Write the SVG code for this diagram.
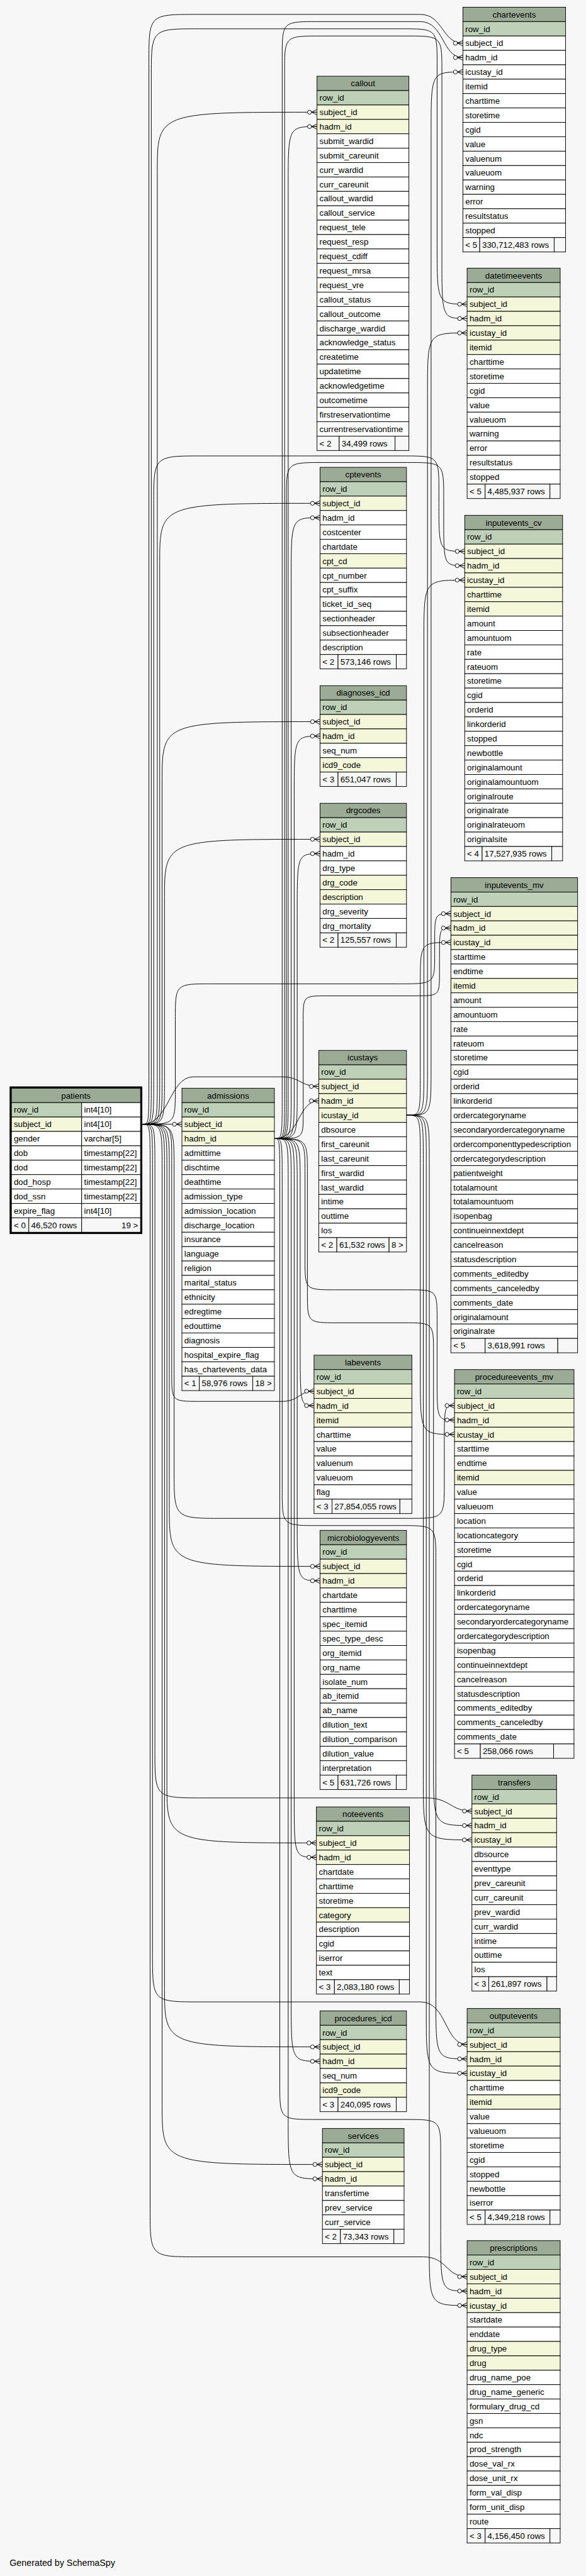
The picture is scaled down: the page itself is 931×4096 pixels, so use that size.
<svg xmlns="http://www.w3.org/2000/svg" width="931" height="4096" viewBox="0 0 931 4096">
<style>
text{font-family:"Liberation Sans",Arial,Helvetica,sans-serif;font-size:14px;fill:#000}
.c{text-anchor:middle}
.r{text-anchor:end}
.tb rect{stroke:#000;stroke-width:1}
.h{fill:#9bab96}
.pk{fill:#bed1b8}
.ix{fill:#f4f7da}
.w{fill:#ffffff}
.f{fill:#f7f7f7}
.e path{fill:none;stroke:#000;stroke-width:1;marker-end:url(#cf)}
</style>
<defs>
<marker id="cf" viewBox="-17 -6 18 12" refX="0" refY="0" markerWidth="18" markerHeight="12" orient="auto" markerUnits="userSpaceOnUse" overflow="visible">
<path d="M-9 0L0-4.5M-9 0L0 0M-9 0L0 4.5" fill="none" stroke="#000" stroke-width="1"/>
<circle cx="-12.5" cy="0" r="3.3" fill="#fff" stroke="#000" stroke-width="1"/>
</marker>
</defs>
<rect x="0" y="0" width="931" height="4096" fill="#f7f7f7"/>
<g transform="scale(0.95389)">
<g id="connectors" class="e">
<path d="M237 1874C262 1874 262 1874 262 1794L262 287C262 187 262 187 528 187"/>
<path d="M237 1874C266 1874 266 1874 266 1794L266 939C266 839 266 839 533 839"/>
<path d="M237 1874C270 1874 270 1874 270 1794L270 1303C270 1203 270 1203 533 1203"/>
<path d="M237 1874C274 1874 274 1874 274 1794L274 1499C274 1399 274 1399 533 1399"/>
<path d="M237 1874C282 1874 282 1795 322 1795L470 1795C500 1795 500 1811 531 1811"/>
<path d="M237 1874L303 1874"/>
<path d="M237 1874C286 1874 286 1874 286 1934L286 2290C286 2336 286 2336 332 2336L470 2336C498 2336 498 2319 523 2319"/>
<path d="M237 1874C282 1874 282 1874 282 1954L282 2511C282 2611 282 2611 533 2611"/>
<path d="M237 1874C278 1874 278 1874 278 1954L278 2972C278 3072 278 3072 527 3072"/>
<path d="M237 1874C274 1874 274 1874 274 1954L274 3312C274 3412 274 3412 533 3412"/>
<path d="M237 1874C270 1874 270 1874 270 1954L270 3508C270 3608 270 3608 537 3608"/>
<path d="M237 1874C248 1874 248 1874 248 1794L248 104C248 24 248 24 328 24L700 24C738 24 736 72 771 72"/>
<path d="M237 1874C252 1874 252 1874 252 1794L252 128C252 48 252 48 332 48L668 48C728 48 728 48 728 108L728 407C728 507 728 507 778 507"/>
<path d="M237 1874C256 1874 256 1874 256 1794L256 840C256 760 256 760 336 760L671 760C731 760 731 760 731 820L731 839C731 919 731 919 774 919"/>
<path d="M237 1874C292 1874 292 1874 292 1814L292 1700C292 1640 292 1640 352 1640L664 1640C724 1640 724 1640 724 1590L724 1573C724 1523 724 1523 751 1523"/>
<path d="M237 1874C290 1874 290 1874 290 1954L290 2451C290 2531 290 2531 370 2531L680 2531C740 2531 740 2531 740 2471L740 2413C740 2343 740 2343 757 2343"/>
<path d="M237 1874C258 1874 258 1874 258 1954L258 2917C258 2997 258 2997 338 2997L710 2997C750 2997 750 3019 786 3019"/>
<path d="M237 1874C254 1874 254 1874 254 1954L254 3257C254 3337 254 3337 334 3337L700 3337C745 3337 740 3408 778 3408"/>
<path d="M237 1874C250 1874 250 1874 250 1954L250 3682C250 3762 250 3762 330 3762L705 3762C745 3762 742 3795 778 3795"/>
<path d="M457 1898C480 1898 480 1898 480 1818L480 311C480 211 480 211 528 211"/>
<path d="M457 1898C485 1898 485 1898 485 1818L485 963C485 863 485 863 533 863"/>
<path d="M457 1898C490 1898 490 1898 490 1818L490 1327C490 1227 490 1227 533 1227"/>
<path d="M457 1898C495 1898 495 1898 495 1818L495 1523C495 1423 495 1423 533 1423"/>
<path d="M457 1898C500 1898 495 1835 531 1835"/>
<path d="M457 1898C500 1898 500 1898 500 1978L500 2243C500 2343 500 2343 523 2343"/>
<path d="M457 1898C495 1898 495 1898 495 1978L495 2535C495 2635 495 2635 533 2635"/>
<path d="M457 1898C490 1898 490 1898 490 1978L490 2996C490 3096 490 3096 527 3096"/>
<path d="M457 1898C485 1898 485 1898 485 1978L485 3336C485 3436 485 3436 533 3436"/>
<path d="M457 1898C480 1898 480 1898 480 1978L480 3532C480 3632 480 3632 537 3632"/>
<path d="M457 1898C470 1898 470 1898 470 1818L470 96C470 36 470 36 530 36L700 36C740 36 736 96 771 96"/>
<path d="M457 1898C474 1898 474 1898 474 1818L474 120C474 60 474 60 534 60L676 60C736 60 736 60 736 120L736 431C736 531 736 531 778 531"/>
<path d="M457 1898C477 1898 477 1898 477 1818L477 831C477 771 477 771 537 771L679 771C739 771 739 771 739 831L739 863C739 943 739 943 774 943"/>
<path d="M457 1898C505 1898 505 1898 505 1858L505 1700C505 1660 505 1660 545 1660L692 1660C732 1660 732 1660 732 1620L732 1597C732 1547 732 1547 751 1547"/>
<path d="M457 1898C508 1898 508 1898 508 1958L508 2100C508 2150 508 2150 558 2150L678 2150C728 2150 728 2150 728 2200L728 2297C728 2367 728 2367 757 2367"/>
<path d="M457 1898C512 1898 512 1898 512 1958L512 2155C512 2205 512 2205 562 2205L672 2205C722 2205 722 2205 722 2255L722 2943C722 3043 722 3043 786 3043"/>
<path d="M457 1898C470 1898 470 1898 470 1978L470 2483C470 2543 470 2543 530 2543L666 2543C726 2543 726 2543 726 2603L726 3332C726 3432 726 3432 778 3432"/>
<path d="M457 1898C466 1898 466 1898 466 1978L466 3473C466 3533 466 3533 526 3533L674 3533C734 3533 734 3533 734 3593L734 3719C734 3819 734 3819 778 3819"/>
<path d="M677 1859C700 1859 700 1859 700 1789L700 1641C700 1571 700 1571 751 1571"/>
<path d="M677 1859C706 1859 706 1859 706 1779L706 1067C706 967 706 967 774 967"/>
<path d="M677 1859C712 1859 712 1859 712 1779L712 655C712 555 712 555 778 555"/>
<path d="M677 1859C718 1859 718 1859 718 1779L718 220C718 120 718 120 771 120"/>
<path d="M677 1859C700 1859 700 1859 700 1939L700 2291C700 2391 700 2391 757 2391"/>
<path d="M677 1859C705 1859 705 1859 705 1939L705 2967C705 3067 705 3067 786 3067"/>
<path d="M677 1859C710 1859 710 1859 710 1939L710 3356C710 3456 710 3456 778 3456"/>
<path d="M677 1859C715 1859 715 1859 715 1939L715 3743C715 3843 715 3843 778 3843"/>
</g>

<g id="patients" class="tb">
<rect class="h" x="19" y="1814" width="215" height="24"/><text class="c" x="126.5" y="1831">patients</text>
<rect class="pk" x="19" y="1838" width="117" height="24"/><rect class="w" x="136" y="1838" width="98" height="24"/><text x="23" y="1855">row_id</text><text x="140" y="1855">int4[10]</text>
<rect class="ix" x="19" y="1862" width="117" height="24"/><rect class="w" x="136" y="1862" width="98" height="24"/><text x="23" y="1879">subject_id</text><text x="140" y="1879">int4[10]</text>
<rect class="w" x="19" y="1886" width="117" height="24"/><rect class="w" x="136" y="1886" width="98" height="24"/><text x="23" y="1903">gender</text><text x="140" y="1903">varchar[5]</text>
<rect class="w" x="19" y="1910" width="117" height="24"/><rect class="w" x="136" y="1910" width="98" height="24"/><text x="23" y="1927">dob</text><text x="140" y="1927">timestamp[22]</text>
<rect class="w" x="19" y="1934" width="117" height="24"/><rect class="w" x="136" y="1934" width="98" height="24"/><text x="23" y="1951">dod</text><text x="140" y="1951">timestamp[22]</text>
<rect class="w" x="19" y="1958" width="117" height="24"/><rect class="w" x="136" y="1958" width="98" height="24"/><text x="23" y="1975">dod_hosp</text><text x="140" y="1975">timestamp[22]</text>
<rect class="w" x="19" y="1982" width="117" height="24"/><rect class="w" x="136" y="1982" width="98" height="24"/><text x="23" y="1999">dod_ssn</text><text x="140" y="1999">timestamp[22]</text>
<rect class="w" x="19" y="2006" width="117" height="24"/><rect class="w" x="136" y="2006" width="98" height="24"/><text x="23" y="2023">expire_flag</text><text x="140" y="2023">int4[10]</text>
<rect class="f" x="19" y="2030" width="29" height="24"/><rect class="f" x="48" y="2030" width="88" height="24"/><rect class="f" x="136" y="2030" width="98" height="24"/>
<text x="23" y="2047">&lt; 0</text><text x="52" y="2047">46,520 rows</text><text class="r" x="230" y="2047">19 &gt;</text>
<rect x="17.5" y="1812.5" width="218" height="243" fill="none" style="stroke-width:3"/>
</g>

<g id="admissions" class="tb">
<rect class="h" x="303" y="1814" width="154" height="24"/><text class="c" x="380" y="1831">admissions</text>
<rect class="pk" x="303" y="1838" width="154" height="24"/><text x="307" y="1855">row_id</text>
<rect class="ix" x="303" y="1862" width="154" height="24"/><text x="307" y="1879">subject_id</text>
<rect class="ix" x="303" y="1886" width="154" height="24"/><text x="307" y="1903">hadm_id</text>
<rect class="w" x="303" y="1910" width="154" height="24"/><text x="307" y="1927">admittime</text>
<rect class="w" x="303" y="1934" width="154" height="24"/><text x="307" y="1951">dischtime</text>
<rect class="w" x="303" y="1958" width="154" height="24"/><text x="307" y="1975">deathtime</text>
<rect class="w" x="303" y="1982" width="154" height="24"/><text x="307" y="1999">admission_type</text>
<rect class="w" x="303" y="2006" width="154" height="24"/><text x="307" y="2023">admission_location</text>
<rect class="w" x="303" y="2030" width="154" height="24"/><text x="307" y="2047">discharge_location</text>
<rect class="w" x="303" y="2054" width="154" height="24"/><text x="307" y="2071">insurance</text>
<rect class="w" x="303" y="2078" width="154" height="24"/><text x="307" y="2095">language</text>
<rect class="w" x="303" y="2102" width="154" height="24"/><text x="307" y="2119">religion</text>
<rect class="w" x="303" y="2126" width="154" height="24"/><text x="307" y="2143">marital_status</text>
<rect class="w" x="303" y="2150" width="154" height="24"/><text x="307" y="2167">ethnicity</text>
<rect class="w" x="303" y="2174" width="154" height="24"/><text x="307" y="2191">edregtime</text>
<rect class="w" x="303" y="2198" width="154" height="24"/><text x="307" y="2215">edouttime</text>
<rect class="w" x="303" y="2222" width="154" height="24"/><text x="307" y="2239">diagnosis</text>
<rect class="w" x="303" y="2246" width="154" height="24"/><text x="307" y="2263">hospital_expire_flag</text>
<rect class="w" x="303" y="2270" width="154" height="24"/><text x="307" y="2287">has_chartevents_data</text>
<rect class="f" x="303" y="2294" width="29" height="24"/><rect class="f" x="332" y="2294" width="89" height="24"/><rect class="f" x="421" y="2294" width="36" height="24"/>
<text x="307" y="2311">&lt; 1</text><text x="336" y="2311">58,976 rows</text><text x="425" y="2311">18 &gt;</text>
</g>

<g id="callout" class="tb">
<rect class="h" x="528" y="127" width="153" height="24"/><text class="c" x="604.5" y="144">callout</text>
<rect class="pk" x="528" y="151" width="153" height="24"/><text x="532" y="168">row_id</text>
<rect class="ix" x="528" y="175" width="153" height="24"/><text x="532" y="192">subject_id</text>
<rect class="ix" x="528" y="199" width="153" height="24"/><text x="532" y="216">hadm_id</text>
<rect class="w" x="528" y="223" width="153" height="24"/><text x="532" y="240">submit_wardid</text>
<rect class="w" x="528" y="247" width="153" height="24"/><text x="532" y="264">submit_careunit</text>
<rect class="w" x="528" y="271" width="153" height="24"/><text x="532" y="288">curr_wardid</text>
<rect class="w" x="528" y="295" width="153" height="24"/><text x="532" y="312">curr_careunit</text>
<rect class="w" x="528" y="319" width="153" height="24"/><text x="532" y="336">callout_wardid</text>
<rect class="w" x="528" y="343" width="153" height="24"/><text x="532" y="360">callout_service</text>
<rect class="w" x="528" y="367" width="153" height="24"/><text x="532" y="384">request_tele</text>
<rect class="w" x="528" y="391" width="153" height="24"/><text x="532" y="408">request_resp</text>
<rect class="w" x="528" y="415" width="153" height="24"/><text x="532" y="432">request_cdiff</text>
<rect class="w" x="528" y="439" width="153" height="24"/><text x="532" y="456">request_mrsa</text>
<rect class="w" x="528" y="463" width="153" height="24"/><text x="532" y="480">request_vre</text>
<rect class="w" x="528" y="487" width="153" height="24"/><text x="532" y="504">callout_status</text>
<rect class="w" x="528" y="511" width="153" height="24"/><text x="532" y="528">callout_outcome</text>
<rect class="w" x="528" y="535" width="153" height="24"/><text x="532" y="552">discharge_wardid</text>
<rect class="w" x="528" y="559" width="153" height="24"/><text x="532" y="576">acknowledge_status</text>
<rect class="w" x="528" y="583" width="153" height="24"/><text x="532" y="600">createtime</text>
<rect class="w" x="528" y="607" width="153" height="24"/><text x="532" y="624">updatetime</text>
<rect class="w" x="528" y="631" width="153" height="24"/><text x="532" y="648">acknowledgetime</text>
<rect class="w" x="528" y="655" width="153" height="24"/><text x="532" y="672">outcometime</text>
<rect class="w" x="528" y="679" width="153" height="24"/><text x="532" y="696">firstreservationtime</text>
<rect class="w" x="528" y="703" width="153" height="24"/><text x="532" y="720">currentreservationtime</text>
<rect class="f" x="528" y="727" width="37" height="24"/><rect class="f" x="565" y="727" width="93" height="24"/><rect class="f" x="658" y="727" width="23" height="24"/>
<text x="532" y="744">&lt; 2</text><text x="569" y="744">34,499 rows</text>
</g>

<g id="cptevents" class="tb">
<rect class="h" x="533" y="779" width="144" height="24"/><text class="c" x="605" y="796">cptevents</text>
<rect class="pk" x="533" y="803" width="144" height="24"/><text x="537" y="820">row_id</text>
<rect class="ix" x="533" y="827" width="144" height="24"/><text x="537" y="844">subject_id</text>
<rect class="w" x="533" y="851" width="144" height="24"/><text x="537" y="868">hadm_id</text>
<rect class="w" x="533" y="875" width="144" height="24"/><text x="537" y="892">costcenter</text>
<rect class="w" x="533" y="899" width="144" height="24"/><text x="537" y="916">chartdate</text>
<rect class="ix" x="533" y="923" width="144" height="24"/><text x="537" y="940">cpt_cd</text>
<rect class="w" x="533" y="947" width="144" height="24"/><text x="537" y="964">cpt_number</text>
<rect class="w" x="533" y="971" width="144" height="24"/><text x="537" y="988">cpt_suffix</text>
<rect class="w" x="533" y="995" width="144" height="24"/><text x="537" y="1012">ticket_id_seq</text>
<rect class="w" x="533" y="1019" width="144" height="24"/><text x="537" y="1036">sectionheader</text>
<rect class="w" x="533" y="1043" width="144" height="24"/><text x="537" y="1060">subsectionheader</text>
<rect class="w" x="533" y="1067" width="144" height="24"/><text x="537" y="1084">description</text>
<rect class="f" x="533" y="1091" width="30" height="24"/><rect class="f" x="563" y="1091" width="97" height="24"/><rect class="f" x="660" y="1091" width="17" height="24"/>
<text x="537" y="1108">&lt; 2</text><text x="567" y="1108">573,146 rows</text>
</g>

<g id="diagnoses_icd" class="tb">
<rect class="h" x="533" y="1143" width="144" height="24"/><text class="c" x="605" y="1160">diagnoses_icd</text>
<rect class="pk" x="533" y="1167" width="144" height="24"/><text x="537" y="1184">row_id</text>
<rect class="ix" x="533" y="1191" width="144" height="24"/><text x="537" y="1208">subject_id</text>
<rect class="ix" x="533" y="1215" width="144" height="24"/><text x="537" y="1232">hadm_id</text>
<rect class="w" x="533" y="1239" width="144" height="24"/><text x="537" y="1256">seq_num</text>
<rect class="ix" x="533" y="1263" width="144" height="24"/><text x="537" y="1280">icd9_code</text>
<rect class="f" x="533" y="1287" width="30" height="24"/><rect class="f" x="563" y="1287" width="97" height="24"/><rect class="f" x="660" y="1287" width="17" height="24"/>
<text x="537" y="1304">&lt; 3</text><text x="567" y="1304">651,047 rows</text>
</g>

<g id="drgcodes" class="tb">
<rect class="h" x="533" y="1339" width="144" height="24"/><text class="c" x="605" y="1356">drgcodes</text>
<rect class="pk" x="533" y="1363" width="144" height="24"/><text x="537" y="1380">row_id</text>
<rect class="ix" x="533" y="1387" width="144" height="24"/><text x="537" y="1404">subject_id</text>
<rect class="w" x="533" y="1411" width="144" height="24"/><text x="537" y="1428">hadm_id</text>
<rect class="w" x="533" y="1435" width="144" height="24"/><text x="537" y="1452">drg_type</text>
<rect class="ix" x="533" y="1459" width="144" height="24"/><text x="537" y="1476">drg_code</text>
<rect class="ix" x="533" y="1483" width="144" height="24"/><text x="537" y="1500">description</text>
<rect class="w" x="533" y="1507" width="144" height="24"/><text x="537" y="1524">drg_severity</text>
<rect class="w" x="533" y="1531" width="144" height="24"/><text x="537" y="1548">drg_mortality</text>
<rect class="f" x="533" y="1555" width="30" height="24"/><rect class="f" x="563" y="1555" width="97" height="24"/><rect class="f" x="660" y="1555" width="17" height="24"/>
<text x="537" y="1572">&lt; 2</text><text x="567" y="1572">125,557 rows</text>
</g>

<g id="icustays" class="tb">
<rect class="h" x="531" y="1751" width="146" height="24"/><text class="c" x="604" y="1768">icustays</text>
<rect class="pk" x="531" y="1775" width="146" height="24"/><text x="535" y="1792">row_id</text>
<rect class="ix" x="531" y="1799" width="146" height="24"/><text x="535" y="1816">subject_id</text>
<rect class="ix" x="531" y="1823" width="146" height="24"/><text x="535" y="1840">hadm_id</text>
<rect class="ix" x="531" y="1847" width="146" height="24"/><text x="535" y="1864">icustay_id</text>
<rect class="w" x="531" y="1871" width="146" height="24"/><text x="535" y="1888">dbsource</text>
<rect class="w" x="531" y="1895" width="146" height="24"/><text x="535" y="1912">first_careunit</text>
<rect class="w" x="531" y="1919" width="146" height="24"/><text x="535" y="1936">last_careunit</text>
<rect class="w" x="531" y="1943" width="146" height="24"/><text x="535" y="1960">first_wardid</text>
<rect class="w" x="531" y="1967" width="146" height="24"/><text x="535" y="1984">last_wardid</text>
<rect class="w" x="531" y="1991" width="146" height="24"/><text x="535" y="2008">intime</text>
<rect class="w" x="531" y="2015" width="146" height="24"/><text x="535" y="2032">outtime</text>
<rect class="w" x="531" y="2039" width="146" height="24"/><text x="535" y="2056">los</text>
<rect class="f" x="531" y="2063" width="30" height="24"/><rect class="f" x="561" y="2063" width="87" height="24"/><rect class="f" x="648" y="2063" width="29" height="24"/>
<text x="535" y="2080">&lt; 2</text><text x="565" y="2080">61,532 rows</text><text x="652" y="2080">8 &gt;</text>
</g>

<g id="labevents" class="tb">
<rect class="h" x="523" y="2259" width="163" height="24"/><text class="c" x="604.5" y="2276">labevents</text>
<rect class="pk" x="523" y="2283" width="163" height="24"/><text x="527" y="2300">row_id</text>
<rect class="ix" x="523" y="2307" width="163" height="24"/><text x="527" y="2324">subject_id</text>
<rect class="ix" x="523" y="2331" width="163" height="24"/><text x="527" y="2348">hadm_id</text>
<rect class="ix" x="523" y="2355" width="163" height="24"/><text x="527" y="2372">itemid</text>
<rect class="w" x="523" y="2379" width="163" height="24"/><text x="527" y="2396">charttime</text>
<rect class="w" x="523" y="2403" width="163" height="24"/><text x="527" y="2420">value</text>
<rect class="w" x="523" y="2427" width="163" height="24"/><text x="527" y="2444">valuenum</text>
<rect class="w" x="523" y="2451" width="163" height="24"/><text x="527" y="2468">valueuom</text>
<rect class="w" x="523" y="2475" width="163" height="24"/><text x="527" y="2492">flag</text>
<rect class="f" x="523" y="2499" width="30" height="24"/><rect class="f" x="553" y="2499" width="113" height="24"/><rect class="f" x="666" y="2499" width="20" height="24"/>
<text x="527" y="2516">&lt; 3</text><text x="557" y="2516">27,854,055 rows</text>
</g>

<g id="microbiologyevents" class="tb">
<rect class="h" x="533" y="2551" width="144" height="24"/><text class="c" x="605" y="2568">microbiologyevents</text>
<rect class="pk" x="533" y="2575" width="144" height="24"/><text x="537" y="2592">row_id</text>
<rect class="ix" x="533" y="2599" width="144" height="24"/><text x="537" y="2616">subject_id</text>
<rect class="ix" x="533" y="2623" width="144" height="24"/><text x="537" y="2640">hadm_id</text>
<rect class="w" x="533" y="2647" width="144" height="24"/><text x="537" y="2664">chartdate</text>
<rect class="w" x="533" y="2671" width="144" height="24"/><text x="537" y="2688">charttime</text>
<rect class="w" x="533" y="2695" width="144" height="24"/><text x="537" y="2712">spec_itemid</text>
<rect class="w" x="533" y="2719" width="144" height="24"/><text x="537" y="2736">spec_type_desc</text>
<rect class="w" x="533" y="2743" width="144" height="24"/><text x="537" y="2760">org_itemid</text>
<rect class="w" x="533" y="2767" width="144" height="24"/><text x="537" y="2784">org_name</text>
<rect class="w" x="533" y="2791" width="144" height="24"/><text x="537" y="2808">isolate_num</text>
<rect class="w" x="533" y="2815" width="144" height="24"/><text x="537" y="2832">ab_itemid</text>
<rect class="w" x="533" y="2839" width="144" height="24"/><text x="537" y="2856">ab_name</text>
<rect class="w" x="533" y="2863" width="144" height="24"/><text x="537" y="2880">dilution_text</text>
<rect class="w" x="533" y="2887" width="144" height="24"/><text x="537" y="2904">dilution_comparison</text>
<rect class="w" x="533" y="2911" width="144" height="24"/><text x="537" y="2928">dilution_value</text>
<rect class="w" x="533" y="2935" width="144" height="24"/><text x="537" y="2952">interpretation</text>
<rect class="f" x="533" y="2959" width="30" height="24"/><rect class="f" x="563" y="2959" width="97" height="24"/><rect class="f" x="660" y="2959" width="17" height="24"/>
<text x="537" y="2976">&lt; 5</text><text x="567" y="2976">631,726 rows</text>
</g>

<g id="noteevents" class="tb">
<rect class="h" x="527" y="3012" width="155" height="24"/><text class="c" x="604.5" y="3029">noteevents</text>
<rect class="pk" x="527" y="3036" width="155" height="24"/><text x="531" y="3053">row_id</text>
<rect class="ix" x="527" y="3060" width="155" height="24"/><text x="531" y="3077">subject_id</text>
<rect class="ix" x="527" y="3084" width="155" height="24"/><text x="531" y="3101">hadm_id</text>
<rect class="w" x="527" y="3108" width="155" height="24"/><text x="531" y="3125">chartdate</text>
<rect class="w" x="527" y="3132" width="155" height="24"/><text x="531" y="3149">charttime</text>
<rect class="w" x="527" y="3156" width="155" height="24"/><text x="531" y="3173">storetime</text>
<rect class="ix" x="527" y="3180" width="155" height="24"/><text x="531" y="3197">category</text>
<rect class="w" x="527" y="3204" width="155" height="24"/><text x="531" y="3221">description</text>
<rect class="w" x="527" y="3228" width="155" height="24"/><text x="531" y="3245">cgid</text>
<rect class="w" x="527" y="3252" width="155" height="24"/><text x="531" y="3269">iserror</text>
<rect class="w" x="527" y="3276" width="155" height="24"/><text x="531" y="3293">text</text>
<rect class="f" x="527" y="3300" width="30" height="24"/><rect class="f" x="557" y="3300" width="108" height="24"/><rect class="f" x="665" y="3300" width="17" height="24"/>
<text x="531" y="3317">&lt; 3</text><text x="561" y="3317">2,083,180 rows</text>
</g>

<g id="procedures_icd" class="tb">
<rect class="h" x="533" y="3352" width="144" height="24"/><text class="c" x="605" y="3369">procedures_icd</text>
<rect class="pk" x="533" y="3376" width="144" height="24"/><text x="537" y="3393">row_id</text>
<rect class="ix" x="533" y="3400" width="144" height="24"/><text x="537" y="3417">subject_id</text>
<rect class="ix" x="533" y="3424" width="144" height="24"/><text x="537" y="3441">hadm_id</text>
<rect class="w" x="533" y="3448" width="144" height="24"/><text x="537" y="3465">seq_num</text>
<rect class="ix" x="533" y="3472" width="144" height="24"/><text x="537" y="3489">icd9_code</text>
<rect class="f" x="533" y="3496" width="30" height="24"/><rect class="f" x="563" y="3496" width="97" height="24"/><rect class="f" x="660" y="3496" width="17" height="24"/>
<text x="537" y="3513">&lt; 3</text><text x="567" y="3513">240,095 rows</text>
</g>

<g id="services" class="tb">
<rect class="h" x="537" y="3548" width="136" height="24"/><text class="c" x="605" y="3565">services</text>
<rect class="pk" x="537" y="3572" width="136" height="24"/><text x="541" y="3589">row_id</text>
<rect class="ix" x="537" y="3596" width="136" height="24"/><text x="541" y="3613">subject_id</text>
<rect class="ix" x="537" y="3620" width="136" height="24"/><text x="541" y="3637">hadm_id</text>
<rect class="w" x="537" y="3644" width="136" height="24"/><text x="541" y="3661">transfertime</text>
<rect class="w" x="537" y="3668" width="136" height="24"/><text x="541" y="3685">prev_service</text>
<rect class="w" x="537" y="3692" width="136" height="24"/><text x="541" y="3709">curr_service</text>
<rect class="f" x="537" y="3716" width="30" height="24"/><rect class="f" x="567" y="3716" width="89" height="24"/><rect class="f" x="656" y="3716" width="17" height="24"/>
<text x="541" y="3733">&lt; 2</text><text x="571" y="3733">73,343 rows</text>
</g>

<g id="chartevents" class="tb">
<rect class="h" x="771" y="12" width="171" height="24"/><text class="c" x="856.5" y="29">chartevents</text>
<rect class="pk" x="771" y="36" width="171" height="24"/><text x="775" y="53">row_id</text>
<rect class="w" x="771" y="60" width="171" height="24"/><text x="775" y="77">subject_id</text>
<rect class="w" x="771" y="84" width="171" height="24"/><text x="775" y="101">hadm_id</text>
<rect class="w" x="771" y="108" width="171" height="24"/><text x="775" y="125">icustay_id</text>
<rect class="w" x="771" y="132" width="171" height="24"/><text x="775" y="149">itemid</text>
<rect class="w" x="771" y="156" width="171" height="24"/><text x="775" y="173">charttime</text>
<rect class="w" x="771" y="180" width="171" height="24"/><text x="775" y="197">storetime</text>
<rect class="w" x="771" y="204" width="171" height="24"/><text x="775" y="221">cgid</text>
<rect class="w" x="771" y="228" width="171" height="24"/><text x="775" y="245">value</text>
<rect class="w" x="771" y="252" width="171" height="24"/><text x="775" y="269">valuenum</text>
<rect class="w" x="771" y="276" width="171" height="24"/><text x="775" y="293">valueuom</text>
<rect class="w" x="771" y="300" width="171" height="24"/><text x="775" y="317">warning</text>
<rect class="w" x="771" y="324" width="171" height="24"/><text x="775" y="341">error</text>
<rect class="w" x="771" y="348" width="171" height="24"/><text x="775" y="365">resultstatus</text>
<rect class="w" x="771" y="372" width="171" height="24"/><text x="775" y="389">stopped</text>
<rect class="f" x="771" y="396" width="28" height="24"/><rect class="f" x="799" y="396" width="124" height="24"/><rect class="f" x="923" y="396" width="19" height="24"/>
<text x="775" y="413">&lt; 5</text><text x="803" y="413">330,712,483 rows</text>
</g>

<g id="datetimeevents" class="tb">
<rect class="h" x="778" y="447" width="155" height="24"/><text class="c" x="855.5" y="464">datetimeevents</text>
<rect class="pk" x="778" y="471" width="155" height="24"/><text x="782" y="488">row_id</text>
<rect class="ix" x="778" y="495" width="155" height="24"/><text x="782" y="512">subject_id</text>
<rect class="ix" x="778" y="519" width="155" height="24"/><text x="782" y="536">hadm_id</text>
<rect class="ix" x="778" y="543" width="155" height="24"/><text x="782" y="560">icustay_id</text>
<rect class="ix" x="778" y="567" width="155" height="24"/><text x="782" y="584">itemid</text>
<rect class="w" x="778" y="591" width="155" height="24"/><text x="782" y="608">charttime</text>
<rect class="w" x="778" y="615" width="155" height="24"/><text x="782" y="632">storetime</text>
<rect class="w" x="778" y="639" width="155" height="24"/><text x="782" y="656">cgid</text>
<rect class="w" x="778" y="663" width="155" height="24"/><text x="782" y="680">value</text>
<rect class="w" x="778" y="687" width="155" height="24"/><text x="782" y="704">valueuom</text>
<rect class="w" x="778" y="711" width="155" height="24"/><text x="782" y="728">warning</text>
<rect class="w" x="778" y="735" width="155" height="24"/><text x="782" y="752">error</text>
<rect class="w" x="778" y="759" width="155" height="24"/><text x="782" y="776">resultstatus</text>
<rect class="w" x="778" y="783" width="155" height="24"/><text x="782" y="800">stopped</text>
<rect class="f" x="778" y="807" width="30" height="24"/><rect class="f" x="808" y="807" width="108" height="24"/><rect class="f" x="916" y="807" width="17" height="24"/>
<text x="782" y="824">&lt; 5</text><text x="812" y="824">4,485,937 rows</text>
</g>

<g id="inputevents_cv" class="tb">
<rect class="h" x="774" y="859" width="163" height="24"/><text class="c" x="855.5" y="876">inputevents_cv</text>
<rect class="pk" x="774" y="883" width="163" height="24"/><text x="778" y="900">row_id</text>
<rect class="ix" x="774" y="907" width="163" height="24"/><text x="778" y="924">subject_id</text>
<rect class="ix" x="774" y="931" width="163" height="24"/><text x="778" y="948">hadm_id</text>
<rect class="ix" x="774" y="955" width="163" height="24"/><text x="778" y="972">icustay_id</text>
<rect class="ix" x="774" y="979" width="163" height="24"/><text x="778" y="996">charttime</text>
<rect class="ix" x="774" y="1003" width="163" height="24"/><text x="778" y="1020">itemid</text>
<rect class="w" x="774" y="1027" width="163" height="24"/><text x="778" y="1044">amount</text>
<rect class="w" x="774" y="1051" width="163" height="24"/><text x="778" y="1068">amountuom</text>
<rect class="w" x="774" y="1075" width="163" height="24"/><text x="778" y="1092">rate</text>
<rect class="w" x="774" y="1099" width="163" height="24"/><text x="778" y="1116">rateuom</text>
<rect class="w" x="774" y="1123" width="163" height="24"/><text x="778" y="1140">storetime</text>
<rect class="w" x="774" y="1147" width="163" height="24"/><text x="778" y="1164">cgid</text>
<rect class="w" x="774" y="1171" width="163" height="24"/><text x="778" y="1188">orderid</text>
<rect class="w" x="774" y="1195" width="163" height="24"/><text x="778" y="1212">linkorderid</text>
<rect class="w" x="774" y="1219" width="163" height="24"/><text x="778" y="1236">stopped</text>
<rect class="w" x="774" y="1243" width="163" height="24"/><text x="778" y="1260">newbottle</text>
<rect class="w" x="774" y="1267" width="163" height="24"/><text x="778" y="1284">originalamount</text>
<rect class="w" x="774" y="1291" width="163" height="24"/><text x="778" y="1308">originalamountuom</text>
<rect class="w" x="774" y="1315" width="163" height="24"/><text x="778" y="1332">originalroute</text>
<rect class="w" x="774" y="1339" width="163" height="24"/><text x="778" y="1356">originalrate</text>
<rect class="w" x="774" y="1363" width="163" height="24"/><text x="778" y="1380">originalrateuom</text>
<rect class="w" x="774" y="1387" width="163" height="24"/><text x="778" y="1404">originalsite</text>
<rect class="f" x="774" y="1411" width="29" height="24"/><rect class="f" x="803" y="1411" width="116" height="24"/><rect class="f" x="919" y="1411" width="18" height="24"/>
<text x="778" y="1428">&lt; 4</text><text x="807" y="1428">17,527,935 rows</text>
</g>

<g id="inputevents_mv" class="tb">
<rect class="h" x="751" y="1463" width="211" height="24"/><text class="c" x="856.5" y="1480">inputevents_mv</text>
<rect class="pk" x="751" y="1487" width="211" height="24"/><text x="755" y="1504">row_id</text>
<rect class="ix" x="751" y="1511" width="211" height="24"/><text x="755" y="1528">subject_id</text>
<rect class="ix" x="751" y="1535" width="211" height="24"/><text x="755" y="1552">hadm_id</text>
<rect class="ix" x="751" y="1559" width="211" height="24"/><text x="755" y="1576">icustay_id</text>
<rect class="w" x="751" y="1583" width="211" height="24"/><text x="755" y="1600">starttime</text>
<rect class="w" x="751" y="1607" width="211" height="24"/><text x="755" y="1624">endtime</text>
<rect class="ix" x="751" y="1631" width="211" height="24"/><text x="755" y="1648">itemid</text>
<rect class="w" x="751" y="1655" width="211" height="24"/><text x="755" y="1672">amount</text>
<rect class="w" x="751" y="1679" width="211" height="24"/><text x="755" y="1696">amountuom</text>
<rect class="w" x="751" y="1703" width="211" height="24"/><text x="755" y="1720">rate</text>
<rect class="w" x="751" y="1727" width="211" height="24"/><text x="755" y="1744">rateuom</text>
<rect class="w" x="751" y="1751" width="211" height="24"/><text x="755" y="1768">storetime</text>
<rect class="w" x="751" y="1775" width="211" height="24"/><text x="755" y="1792">cgid</text>
<rect class="w" x="751" y="1799" width="211" height="24"/><text x="755" y="1816">orderid</text>
<rect class="w" x="751" y="1823" width="211" height="24"/><text x="755" y="1840">linkorderid</text>
<rect class="w" x="751" y="1847" width="211" height="24"/><text x="755" y="1864">ordercategoryname</text>
<rect class="w" x="751" y="1871" width="211" height="24"/><text x="755" y="1888">secondaryordercategoryname</text>
<rect class="w" x="751" y="1895" width="211" height="24"/><text x="755" y="1912">ordercomponenttypedescription</text>
<rect class="w" x="751" y="1919" width="211" height="24"/><text x="755" y="1936">ordercategorydescription</text>
<rect class="w" x="751" y="1943" width="211" height="24"/><text x="755" y="1960">patientweight</text>
<rect class="w" x="751" y="1967" width="211" height="24"/><text x="755" y="1984">totalamount</text>
<rect class="w" x="751" y="1991" width="211" height="24"/><text x="755" y="2008">totalamountuom</text>
<rect class="w" x="751" y="2015" width="211" height="24"/><text x="755" y="2032">isopenbag</text>
<rect class="w" x="751" y="2039" width="211" height="24"/><text x="755" y="2056">continueinnextdept</text>
<rect class="w" x="751" y="2063" width="211" height="24"/><text x="755" y="2080">cancelreason</text>
<rect class="w" x="751" y="2087" width="211" height="24"/><text x="755" y="2104">statusdescription</text>
<rect class="w" x="751" y="2111" width="211" height="24"/><text x="755" y="2128">comments_editedby</text>
<rect class="w" x="751" y="2135" width="211" height="24"/><text x="755" y="2152">comments_canceledby</text>
<rect class="w" x="751" y="2159" width="211" height="24"/><text x="755" y="2176">comments_date</text>
<rect class="w" x="751" y="2183" width="211" height="24"/><text x="755" y="2200">originalamount</text>
<rect class="w" x="751" y="2207" width="211" height="24"/><text x="755" y="2224">originalrate</text>
<rect class="f" x="751" y="2231" width="57" height="24"/><rect class="f" x="808" y="2231" width="121" height="24"/><rect class="f" x="929" y="2231" width="33" height="24"/>
<text x="755" y="2248">&lt; 5</text><text x="812" y="2248">3,618,991 rows</text>
</g>

<g id="procedureevents_mv" class="tb">
<rect class="h" x="757" y="2283" width="199" height="24"/><text class="c" x="856.5" y="2300">procedureevents_mv</text>
<rect class="pk" x="757" y="2307" width="199" height="24"/><text x="761" y="2324">row_id</text>
<rect class="ix" x="757" y="2331" width="199" height="24"/><text x="761" y="2348">subject_id</text>
<rect class="ix" x="757" y="2355" width="199" height="24"/><text x="761" y="2372">hadm_id</text>
<rect class="ix" x="757" y="2379" width="199" height="24"/><text x="761" y="2396">icustay_id</text>
<rect class="w" x="757" y="2403" width="199" height="24"/><text x="761" y="2420">starttime</text>
<rect class="w" x="757" y="2427" width="199" height="24"/><text x="761" y="2444">endtime</text>
<rect class="ix" x="757" y="2451" width="199" height="24"/><text x="761" y="2468">itemid</text>
<rect class="w" x="757" y="2475" width="199" height="24"/><text x="761" y="2492">value</text>
<rect class="w" x="757" y="2499" width="199" height="24"/><text x="761" y="2516">valueuom</text>
<rect class="w" x="757" y="2523" width="199" height="24"/><text x="761" y="2540">location</text>
<rect class="w" x="757" y="2547" width="199" height="24"/><text x="761" y="2564">locationcategory</text>
<rect class="w" x="757" y="2571" width="199" height="24"/><text x="761" y="2588">storetime</text>
<rect class="w" x="757" y="2595" width="199" height="24"/><text x="761" y="2612">cgid</text>
<rect class="w" x="757" y="2619" width="199" height="24"/><text x="761" y="2636">orderid</text>
<rect class="w" x="757" y="2643" width="199" height="24"/><text x="761" y="2660">linkorderid</text>
<rect class="w" x="757" y="2667" width="199" height="24"/><text x="761" y="2684">ordercategoryname</text>
<rect class="w" x="757" y="2691" width="199" height="24"/><text x="761" y="2708">secondaryordercategoryname</text>
<rect class="w" x="757" y="2715" width="199" height="24"/><text x="761" y="2732">ordercategorydescription</text>
<rect class="w" x="757" y="2739" width="199" height="24"/><text x="761" y="2756">isopenbag</text>
<rect class="w" x="757" y="2763" width="199" height="24"/><text x="761" y="2780">continueinnextdept</text>
<rect class="w" x="757" y="2787" width="199" height="24"/><text x="761" y="2804">cancelreason</text>
<rect class="w" x="757" y="2811" width="199" height="24"/><text x="761" y="2828">statusdescription</text>
<rect class="w" x="757" y="2835" width="199" height="24"/><text x="761" y="2852">comments_editedby</text>
<rect class="w" x="757" y="2859" width="199" height="24"/><text x="761" y="2876">comments_canceledby</text>
<rect class="w" x="757" y="2883" width="199" height="24"/><text x="761" y="2900">comments_date</text>
<rect class="f" x="757" y="2907" width="43" height="24"/><rect class="f" x="800" y="2907" width="122" height="24"/><rect class="f" x="922" y="2907" width="34" height="24"/>
<text x="761" y="2924">&lt; 5</text><text x="804" y="2924">258,066 rows</text>
</g>

<g id="transfers" class="tb">
<rect class="h" x="786" y="2959" width="141" height="24"/><text class="c" x="856.5" y="2976">transfers</text>
<rect class="pk" x="786" y="2983" width="141" height="24"/><text x="790" y="3000">row_id</text>
<rect class="ix" x="786" y="3007" width="141" height="24"/><text x="790" y="3024">subject_id</text>
<rect class="ix" x="786" y="3031" width="141" height="24"/><text x="790" y="3048">hadm_id</text>
<rect class="ix" x="786" y="3055" width="141" height="24"/><text x="790" y="3072">icustay_id</text>
<rect class="w" x="786" y="3079" width="141" height="24"/><text x="790" y="3096">dbsource</text>
<rect class="w" x="786" y="3103" width="141" height="24"/><text x="790" y="3120">eventtype</text>
<rect class="w" x="786" y="3127" width="141" height="24"/><text x="790" y="3144">prev_careunit</text>
<rect class="w" x="786" y="3151" width="141" height="24"/><text x="790" y="3168">curr_careunit</text>
<rect class="w" x="786" y="3175" width="141" height="24"/><text x="790" y="3192">prev_wardid</text>
<rect class="w" x="786" y="3199" width="141" height="24"/><text x="790" y="3216">curr_wardid</text>
<rect class="w" x="786" y="3223" width="141" height="24"/><text x="790" y="3240">intime</text>
<rect class="w" x="786" y="3247" width="141" height="24"/><text x="790" y="3264">outtime</text>
<rect class="w" x="786" y="3271" width="141" height="24"/><text x="790" y="3288">los</text>
<rect class="f" x="786" y="3295" width="28" height="24"/><rect class="f" x="814" y="3295" width="97" height="24"/><rect class="f" x="911" y="3295" width="16" height="24"/>
<text x="790" y="3312">&lt; 3</text><text x="818" y="3312">261,897 rows</text>
</g>

<g id="outputevents" class="tb">
<rect class="h" x="778" y="3348" width="155" height="24"/><text class="c" x="855.5" y="3365">outputevents</text>
<rect class="pk" x="778" y="3372" width="155" height="24"/><text x="782" y="3389">row_id</text>
<rect class="ix" x="778" y="3396" width="155" height="24"/><text x="782" y="3413">subject_id</text>
<rect class="ix" x="778" y="3420" width="155" height="24"/><text x="782" y="3437">hadm_id</text>
<rect class="ix" x="778" y="3444" width="155" height="24"/><text x="782" y="3461">icustay_id</text>
<rect class="w" x="778" y="3468" width="155" height="24"/><text x="782" y="3485">charttime</text>
<rect class="ix" x="778" y="3492" width="155" height="24"/><text x="782" y="3509">itemid</text>
<rect class="w" x="778" y="3516" width="155" height="24"/><text x="782" y="3533">value</text>
<rect class="w" x="778" y="3540" width="155" height="24"/><text x="782" y="3557">valueuom</text>
<rect class="w" x="778" y="3564" width="155" height="24"/><text x="782" y="3581">storetime</text>
<rect class="w" x="778" y="3588" width="155" height="24"/><text x="782" y="3605">cgid</text>
<rect class="w" x="778" y="3612" width="155" height="24"/><text x="782" y="3629">stopped</text>
<rect class="w" x="778" y="3636" width="155" height="24"/><text x="782" y="3653">newbottle</text>
<rect class="w" x="778" y="3660" width="155" height="24"/><text x="782" y="3677">iserror</text>
<rect class="f" x="778" y="3684" width="30" height="24"/><rect class="f" x="808" y="3684" width="108" height="24"/><rect class="f" x="916" y="3684" width="17" height="24"/>
<text x="782" y="3701">&lt; 5</text><text x="812" y="3701">4,349,218 rows</text>
</g>

<g id="prescriptions" class="tb">
<rect class="h" x="778" y="3735" width="155" height="24"/><text class="c" x="855.5" y="3752">prescriptions</text>
<rect class="pk" x="778" y="3759" width="155" height="24"/><text x="782" y="3776">row_id</text>
<rect class="ix" x="778" y="3783" width="155" height="24"/><text x="782" y="3800">subject_id</text>
<rect class="ix" x="778" y="3807" width="155" height="24"/><text x="782" y="3824">hadm_id</text>
<rect class="ix" x="778" y="3831" width="155" height="24"/><text x="782" y="3848">icustay_id</text>
<rect class="w" x="778" y="3855" width="155" height="24"/><text x="782" y="3872">startdate</text>
<rect class="w" x="778" y="3879" width="155" height="24"/><text x="782" y="3896">enddate</text>
<rect class="ix" x="778" y="3903" width="155" height="24"/><text x="782" y="3920">drug_type</text>
<rect class="ix" x="778" y="3927" width="155" height="24"/><text x="782" y="3944">drug</text>
<rect class="w" x="778" y="3951" width="155" height="24"/><text x="782" y="3968">drug_name_poe</text>
<rect class="w" x="778" y="3975" width="155" height="24"/><text x="782" y="3992">drug_name_generic</text>
<rect class="w" x="778" y="3999" width="155" height="24"/><text x="782" y="4016">formulary_drug_cd</text>
<rect class="w" x="778" y="4023" width="155" height="24"/><text x="782" y="4040">gsn</text>
<rect class="w" x="778" y="4047" width="155" height="24"/><text x="782" y="4064">ndc</text>
<rect class="w" x="778" y="4071" width="155" height="24"/><text x="782" y="4088">prod_strength</text>
<rect class="w" x="778" y="4095" width="155" height="24"/><text x="782" y="4112">dose_val_rx</text>
<rect class="w" x="778" y="4119" width="155" height="24"/><text x="782" y="4136">dose_unit_rx</text>
<rect class="w" x="778" y="4143" width="155" height="24"/><text x="782" y="4160">form_val_disp</text>
<rect class="w" x="778" y="4167" width="155" height="24"/><text x="782" y="4184">form_unit_disp</text>
<rect class="w" x="778" y="4191" width="155" height="24"/><text x="782" y="4208">route</text>
<rect class="f" x="778" y="4215" width="30" height="24"/><rect class="f" x="808" y="4215" width="108" height="24"/><rect class="f" x="916" y="4215" width="17" height="24"/>
<text x="782" y="4232">&lt; 3</text><text x="812" y="4232">4,156,450 rows</text>
</g>

<text x="16" y="4277" style="font-size:15px">Generated by SchemaSpy</text>
</g>
</svg>
